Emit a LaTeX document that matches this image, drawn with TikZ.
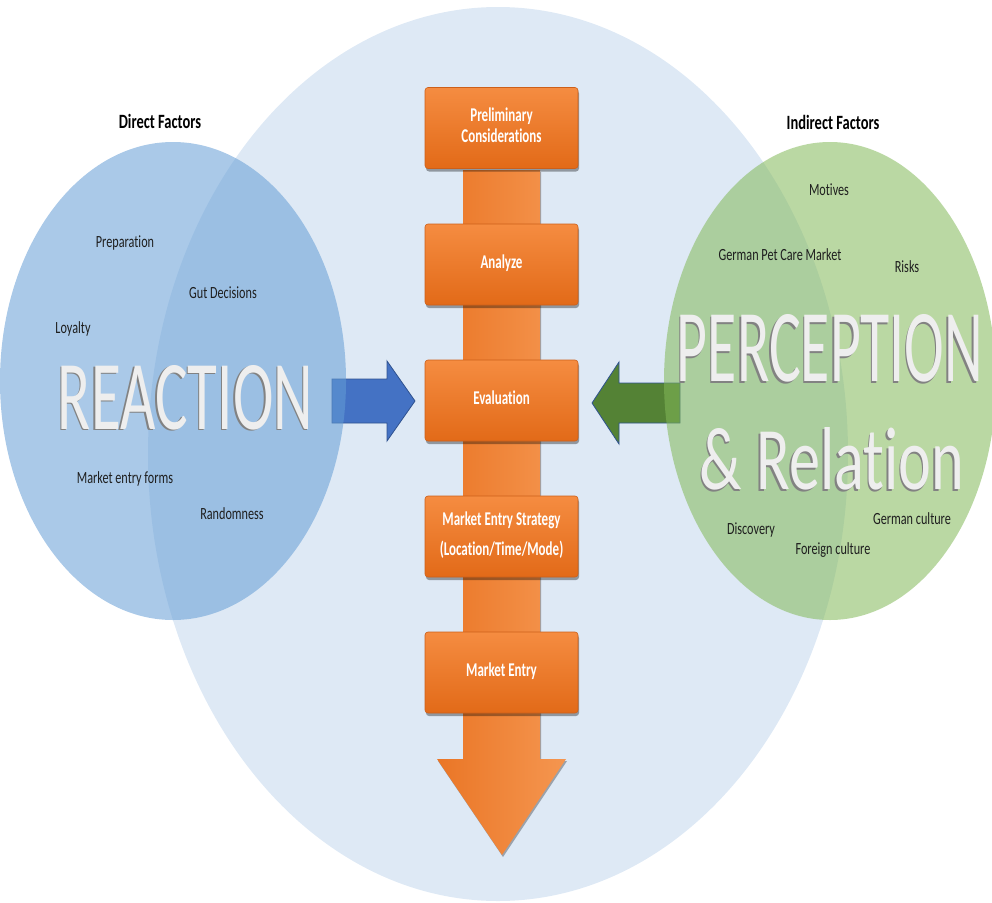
\documentclass[tikz,border=0pt]{standalone}
\usepackage{fontspec}
\setmainfont[Ligatures={NoCommon,NoContextual}]{Carlito}
\usepackage{graphicx}
\usetikzlibrary{shadows}

\definecolor{bgcircle}{RGB}{222,233,245}
\definecolor{leftfill}{RGB}{100,157,213}
\definecolor{rightfill}{RGB}{130,184,88}
\definecolor{shaftL}{RGB}{234,118,38}
\definecolor{shaftR}{RGB}{245,150,80}
\definecolor{boxTop}{RGB}{245,140,65}
\definecolor{boxBot}{RGB}{226,106,24}
\definecolor{boxEdge}{RGB}{205,95,25}
\definecolor{arrowblue}{RGB}{68,114,196}
\definecolor{arrowgreen}{RGB}{84,130,53}
\definecolor{arrowedge}{RGB}{47,82,143}
\definecolor{bigtext}{RGB}{238,238,238}
\definecolor{bigshade}{RGB}{130,130,130}
\definecolor{labeltext}{RGB}{30,30,30}

% vertically stretched text: a centred block and a single line
\newcommand\vstretch[2]{\raisebox{-2pt}{\scalebox{1}[#1]{\begin{tabular}{@{}c@{}}#2\end{tabular}}}}
\newcommand\tallword[2]{\scalebox{1}[#1]{#2}}
% keeps t and i as separate glyphs
\newcommand\tisep{t\kern0pt i}

\begin{document}
\begin{tikzpicture}[x=1pt,y=-1pt,
  stepbox/.style={rounded corners=3pt, minimum width=153pt, minimum height=81pt,
    top color=boxTop, bottom color=boxBot, draw=boxEdge, line width=0.6pt,
    text=white, inner sep=0pt,
    font=\bfseries\fontsize{13}{13.8}\selectfont,
    drop shadow={shadow xshift=1pt, shadow yshift=-3pt, opacity=0.35, fill=black}},
  factor/.style={text=labeltext, inner sep=0pt, font=\fontsize{12.2}{14}\selectfont},
  header/.style={text=black, inner sep=0pt, font=\bfseries\fontsize{14.5}{16}\selectfont},
  bigword/.style={text=bigtext, inner sep=0pt},
  bigshadow/.style={text=bigshade, inner sep=0pt},
  blockarrow/.style={draw=arrowedge, line width=0.8pt, line join=miter}
]
\useasboundingbox (0,0) rectangle (992,902);
\clip (0,0) rectangle (992,902);

% central circle
\fill[bgcircle] (498,454) ellipse [x radius=350, y radius=447];

% process column with downward arrow head
\path[left color=shaftL, right color=shaftR,
  drop shadow={shadow xshift=1pt, shadow yshift=-2pt, opacity=0.3, fill=black}]
  (463,170) -- (463,759) -- (437,759) -- (502,855) -- (566,759) -- (540,759) -- (540,170) -- cycle;

% process steps
\node[stepbox] (prelim) at (501.5,128) {\vstretch{1.5}{Preliminary\\Considera\tisep ons}};
\node[stepbox] (analyze) at (501.5,264.5) {\vstretch{1.5}{Analyze}};
\node[stepbox] (evaluation) at (501.5,400.5) {\vstretch{1.5}{Evalua\tisep on}};
\node[stepbox] (strategy) at (501.5,536.5) {\vstretch{1.5}{Market Entry Strategy\\[6pt](Loca\tisep on/Time/Mode)}};
\node[stepbox] (entry) at (501.5,672.5) {\vstretch{1.5}{Market Entry}};

% block arrows pointing at the evaluation step
\path[blockarrow, fill=arrowblue]
  (332,379) -- (387,379) -- (387,361) -- (415,401) -- (387,441) -- (387,423) -- (332,423) -- cycle;
\path[blockarrow, fill=arrowgreen]
  (680,383) -- (619,383) -- (619,362) -- (592,403) -- (619,444) -- (619,423) -- (680,423) -- cycle;

% factor ellipses
\fill[leftfill, fill opacity=0.55] (173,381) ellipse [x radius=173, y radius=239];
\fill[rightfill, fill opacity=0.55] (830,381) ellipse [x radius=166, y radius=239];

% headings
\node[header] (direct) at (160,121) {\tallword{1.4}{Direct Factors}};
\node[header] (indirect) at (833,122) {\tallword{1.4}{Indirect Factors}};

% direct factors
\node[factor] (prep) at (125,243) {\tallword{1.4}{Prepara\tisep on}};
\node[factor] (gut) at (223,293) {\tallword{1.4}{Gut Decisions}};
\node[factor] (loyal) at (73,329) {\tallword{1.4}{Loyalty}};
\node[factor] (forms) at (125,479) {\tallword{1.4}{Market entry forms}};
\node[factor] (random) at (232,514) {\tallword{1.4}{Randomness}};

% indirect factors
\node[factor] (motives) at (829,190) {\tallword{1.4}{Mo\tisep ves}};
\node[factor] (petcare) at (780,255) {\tallword{1.4}{German Pet Care Market}};
\node[factor] (risks) at (907,267) {\tallword{1.4}{Risks}};
\node[factor] (discovery) at (751,530) {\tallword{1.4}{Discovery}};
\node[factor] (foreign) at (833,550) {\tallword{1.4}{Foreign culture}};
\node[factor] (german) at (912,519) {\tallword{1.4}{German culture}};

% large embossed words
\node[bigshadow] (reactionS) at (184,399) {\resizebox{255pt}{64pt}{REACTION}};
\node[bigword] (reaction) at (185.5,397.5) {\resizebox{255pt}{64pt}{REACTION}};
\node[bigshadow] (perceptionS) at (828.5,350) {\resizebox{306pt}{67pt}{PERCEPTION}};
\node[bigword] (perception) at (830,348.5) {\resizebox{306pt}{67pt}{PERCEPTION}};
\node[bigshadow] (relationS) at (830.5,460.5) {\resizebox{264pt}{62pt}{\& Rela\tisep on}};
\node[bigword] (relation) at (832,459) {\resizebox{264pt}{62pt}{\& Rela\tisep on}};
\end{tikzpicture}
\end{document}
